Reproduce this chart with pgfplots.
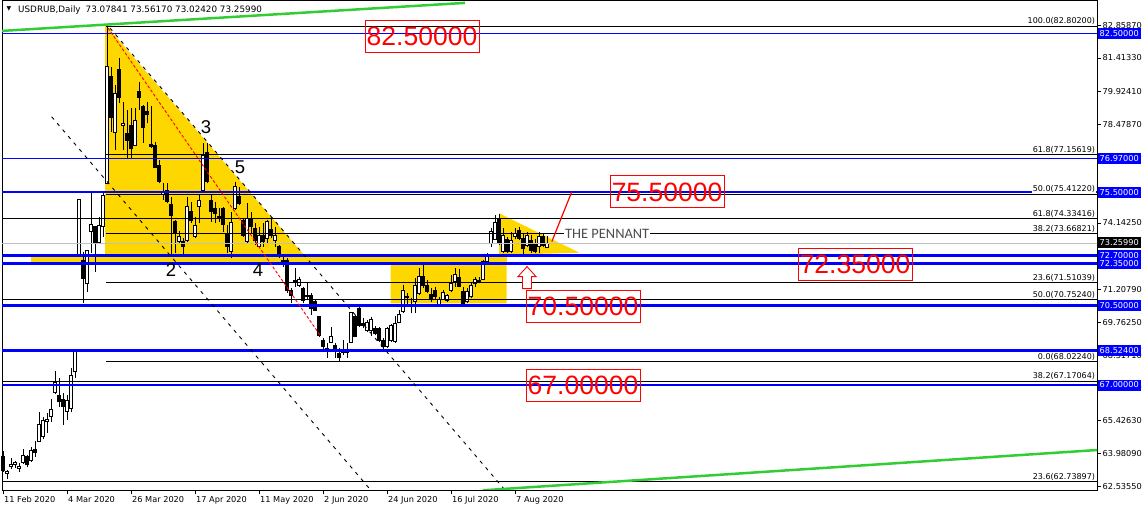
\documentclass[border=0pt]{standalone}
\usepackage{fontspec}
\setmainfont{DejaVu Sans}
\newfontfamily\arialfont{Liberation Sans}
\newfontfamily\calfont{Carlito}
\usepackage{pgfplots}
\usepackage{pgfplotstable}
\pgfplotsset{compat=1.18}

\definecolor{mtgold}{RGB}{255,215,0}
\definecolor{mtblue}{RGB}{0,0,255}
\definecolor{mtgreen}{RGB}{50,205,50}
\definecolor{mtgray}{RGB}{192,192,192}
\definecolor{mtred}{RGB}{255,0,0}

\newcommand\smallfont{\fontsize{8.2bp}{9.5bp}\selectfont}
\newcommand\fibfont{\fontsize{8bp}{9bp}\selectfont}

% daily bars, i = trading day counted from 11 Feb 2020
\pgfplotstableread{
i o h l c
0 63.84 64.10 63.18 63.25
1 63.11 63.25 62.87 63.21
2 63.40 63.78 63.31 63.52
3 63.49 63.66 63.36 63.61
4 63.31 63.58 63.18 63.43
5 63.58 64.17 63.52 63.90
6 63.87 63.91 63.40 63.52
7 63.66 64.28 63.61 64.14
8 64.18 64.53 63.84 64.02
9 64.50 65.81 64.50 65.28
10 64.72 65.60 64.62 65.46
11 65.38 65.75 64.90 65.50
12 65.60 66.38 65.38 65.94
13 66.66 67.62 66.60 67.13
14 66.56 67.31 66.04 66.26
15 66.38 66.63 65.24 66.04
16 65.82 66.55 65.46 66.30
17 65.97 67.75 65.82 67.44
18 67.62 68.54 67.30 68.50
19 72.72 75.18 72.72 75.18
20 72.51 72.87 70.62 71.70
21 71.48 72.95 71.11 72.95
22 73.75 75.45 72.83 74.09
23 74.00 74.00 71.99 73.24
24 73.27 74.41 73.24 74.05
25 73.97 75.52 73.53 75.37
26 75.89 82.80 75.89 81.05
27 80.58 81.02 78.17 78.80
28 78.12 80.22 77.36 79.85
29 80.91 81.39 79.44 79.68
30 78.46 79.48 77.36 78.53
31 78.09 79.12 76.95 77.80
32 78.46 79.19 76.95 77.43
33 77.58 79.19 77.53 78.68
34 79.96 80.37 79.12 79.66
35 79.29 79.34 77.68 78.36
36 79.04 79.48 78.53 78.94
37 77.62 79.29 77.45 77.53
38 77.58 77.72 76.55 76.60
39 76.69 76.91 75.89 75.96
40 75.41 75.89 75.15 75.52
41 75.59 75.89 75.01 75.08
42 74.98 75.30 72.65 74.49
43 74.23 74.27 72.80 73.73
44 73.31 73.80 73.21 73.53
45 73.31 73.46 72.73 73.09
46 73.39 75.30 73.31 74.86
47 74.64 75.08 74.15 74.27
48 73.53 74.41 73.46 74.05
49 74.86 75.37 74.15 75.15
50 75.56 77.65 75.52 77.14
51 77.24 77.68 75.89 75.96
52 75.15 75.37 74.20 74.64
53 74.79 75.08 74.13 74.57
54 74.41 74.79 74.20 74.35
55 74.79 74.86 73.75 74.09
56 73.68 74.05 72.80 73.09
57 72.87 74.64 72.58 74.15
58 74.79 75.96 74.71 75.74
59 75.30 75.74 74.93 75.01
60 74.27 74.35 73.53 73.61
61 73.31 75.01 73.24 74.35
62 74.35 74.64 73.68 73.97
63 73.90 74.13 73.17 73.39
64 73.09 73.97 73.02 73.61
65 73.61 74.13 73.09 73.31
66 73.46 74.27 73.24 74.20
67 73.86 74.41 73.46 73.61
68 73.39 73.97 73.09 73.61
69 73.09 73.17 72.58 72.73
70 72.51 72.65 72.21 72.43
71 72.51 72.58 71.04 71.19
72 71.19 71.26 70.60 70.97
73 71.55 72.14 71.33 71.62
74 71.40 71.77 71.33 71.67
75 71.26 71.33 70.60 70.74
76 70.96 71.48 70.74 70.89
77 70.96 71.04 70.08 70.38
78 70.67 70.74 70.27 70.30
79 70.01 70.01 69.13 69.20
80 68.98 69.06 68.54 68.69
81 68.62 68.84 68.18 68.54
82 68.86 69.57 68.84 69.16
83 68.76 68.84 68.18 68.54
84 68.40 68.62 68.02 68.20
85 68.42 68.98 68.32 68.54
86 68.54 68.84 68.18 68.42
87 68.86 70.23 68.84 70.20
88 70.01 70.08 69.13 69.16
89 70.38 70.52 69.57 69.64
90 69.72 69.94 69.50 69.64
91 69.42 69.86 69.35 69.74
92 69.42 69.98 69.16 69.89
93 69.51 69.60 69.20 69.29
94 69.50 69.57 68.91 68.98
95 68.98 69.06 68.51 68.69
96 68.69 69.57 68.62 69.50
97 68.98 69.68 68.91 69.64
98 68.91 70.04 68.86 69.72
99 69.74 70.30 69.72 70.13
100 70.23 71.40 70.16 71.19
101 70.89 71.04 70.52 70.85
102 70.57 70.83 70.17 70.48
103 70.67 71.70 70.16 71.40
104 71.04 72.14 70.97 71.77
105 71.80 72.28 71.26 71.40
106 71.40 71.62 71.04 71.11
107 71.01 71.26 70.67 70.78
108 71.19 71.30 70.78 70.89
109 70.57 70.89 70.48 70.78
110 70.78 71.19 70.74 71.07
111 70.74 71.01 70.67 70.96
112 71.15 71.84 71.11 71.48
113 71.55 72.14 71.33 71.89
114 71.74 72.10 71.30 71.36
115 71.11 71.30 70.48 70.57
116 70.67 71.26 70.60 71.11
117 70.89 71.55 70.82 71.40
118 71.48 71.77 71.30 71.65
119 71.55 71.75 71.48 71.62
120 71.65 72.51 71.62 72.43
121 72.43 72.80 72.33 72.65
122 73.24 73.90 73.09 73.75
123 73.42 74.49 73.39 74.15
124 74.35 74.54 73.17 73.24
125 72.87 73.90 72.80 73.61
126 73.42 73.53 72.80 72.87
127 72.91 73.75 72.83 73.39
128 73.56 73.90 73.42 73.68
129 73.83 73.95 73.39 73.46
130 73.46 73.68 72.73 73.02
131 73.17 73.75 73.09 73.61
132 73.39 73.61 72.80 72.95
133 73.24 73.42 72.80 72.87
134 73.09 73.75 72.80 73.53
135 73.53 73.68 73.09 73.17
136 73.08 73.56 73.02 73.26
}\usdrub

\pgfdeclareplotmark{blank}{}

\pgfplotsset{
  candles/.style={
    scatter, only marks, mark=blank, point meta=y,
    visualization depends on={\thisrow{c}-\thisrow{o} \as \candB},
    visualization depends on={\thisrow{h}-\thisrow{o} \as \candHi},
    visualization depends on={\thisrow{l}-\thisrow{o} \as \candLo},
    scatter/@pre marker code/.code={%
      \ifdim\candB pt<0pt \def\candfill{black}\else\def\candfill{white}\fi
      \draw[black, line width=0.9bp] (axis direction cs:0,\candLo) -- (axis direction cs:0,\candHi);
      \filldraw[fill=\candfill, draw=black, line width=0.8bp]
        (axis direction cs:-0.3,0) rectangle (axis direction cs:0.3,\candB);
    },
    scatter/@post marker code/.code={},
  },
}
\tikzset{
  fiblbl/.style={anchor=south east, fill=white, inner sep=0.6bp, yshift=0.6bp, font=\fibfont},
  pricebox/.style={anchor=west, xshift=0.5bp, fill=mtblue, text=white, inner xsep=2bp,
    inner ysep=0.5bp, minimum height=11bp, font=\smallfont},
  redbox/.style={draw=mtred, line width=0.9bp, text=mtred, inner sep=0pt,
    minimum width=114bp, minimum height=32bp,
    font=\arialfont\fontsize{26.5bp}{30bp}\selectfont},
  wave/.style={font=\arialfont\fontsize{18.5bp}{20bp}\selectfont},
}

\begin{document}
\begin{tikzpicture}
\begin{axis}[
  at={(2bp,21bp)}, anchor=south west,
  scale only axis, width=1095bp, height=490bp,
  xmin=-0.25, xmax=273.5, ymin=62.373, ymax=83.9676,
  clip mode=individual,
  axis line style={black, line width=0.8bp},
  tick align=outside, major tick length=4bp,
  tick style={black, line width=0.8bp},
  xtick pos=left, ytick pos=right, yticklabel pos=right,
  xtick={0,16,...,128},
  xticklabels={11 Feb 2020,4 Mar 2020,26 Mar 2020,17 Apr 2020,11 May 2020,2 Jun 2020,24 Jun 2020,16 Jul 2020,7 Aug 2020},
  ytick={62.5355,63.9809,65.4263,66.8717,68.3171,69.7625,71.2079,74.1425,78.4787,79.9241,81.4133,82.8587},
  yticklabels={62.53550,63.98090,65.42630,66.87170,68.31710,69.76250,71.20790,74.14250,78.47870,79.92410,81.41330,82.85870},
  ticklabel style={font=\smallfont},
  xticklabel style={anchor=north west, inner xsep=1bp, yshift=1.5bp},
  yticklabel style={anchor=west, inner xsep=1.5bp},
]
% yellow zones
\addplot[fill=mtgold, draw=none] coordinates {(25.5,82.91) (25.5,72.70) (75.4,72.70) (25.5,82.91)};
\addplot[fill=mtgold, draw=none] coordinates {(7,72.35) (7,72.76) (126,72.76) (126,72.35) (7,72.35)};
\addplot[fill=mtgold, draw=none] coordinates {(96.9,70.60) (96.9,72.40) (125.9,72.40) (125.9,70.60) (96.9,70.60)};
\addplot[fill=mtgold, draw=none] coordinates {(124,74.57) (144.1,72.83) (124,72.73) (124,74.57)};

% candles
\addplot[candles] table[x=i, y=o] {\usdrub};

% fibonacci levels from the March high
\pgfplotsinvokeforeach{82.802,77.15619,75.4122,73.66821,71.51039,68.0224}{
  \addplot[black, line width=0.8bp] coordinates {(25.75,#1) (275,#1)};
}
% second fibonacci set
\pgfplotsinvokeforeach{74.33416,70.7524,67.17064,62.73897}{
  \addplot[black, line width=0.8bp] coordinates {(-1,#1) (275,#1)};
}
% bid line
\addplot[mtgray, line width=0.8bp] coordinates {(-1,73.2599) (275,73.2599)};
% support / resistance
\pgfplotsinvokeforeach{82.5,76.97}{
  \addplot[mtblue, line width=1bp] coordinates {(-1,#1) (275,#1)};
}
\pgfplotsinvokeforeach{75.5,72.7,72.35,70.5,68.524,67}{
  \addplot[mtblue, line width=2.5bp] coordinates {(-1,#1) (275,#1)};
}
% channel lines
\addplot[black, line width=0.9bp, dash pattern=on 3.5bp off 5bp] coordinates {(12.17,78.82) (93,62.15)};
\addplot[black, line width=0.9bp, dash pattern=on 3.5bp off 5bp] coordinates {(26.75,82.73) (127,62.06)};
\addplot[mtred, line width=0.9bp, dash pattern=on 3bp off 2bp] coordinates {(26.25,82.73) (79.25,69.20)};
\addplot[mtgreen, line width=2.5bp] coordinates {(-0.75,82.60) (115.5,83.84)};
\addplot[mtgreen, line width=2.5bp] coordinates {(120,62.36) (274,64.14)};
% breakout
\addplot[mtred, line width=1.2bp] coordinates {(137.2,73.32) (142.2,75.52)};

% fibonacci labels
\node[fiblbl] at (axis cs:273.2,82.802) {100.0(82.80200)};
\node[fiblbl] at (axis cs:273.2,77.15619) {61.8(77.15619)};
\node[fiblbl] at (axis cs:273.2,75.4122) {50.0(75.41220)};
\node[fiblbl] at (axis cs:273.2,74.33416) {61.8(74.33416)};
\node[fiblbl] at (axis cs:273.2,73.66821) {38.2(73.66821)};
\node[fiblbl] at (axis cs:273.2,71.51039) {23.6(71.51039)};
\node[fiblbl] at (axis cs:273.2,70.7524) {50.0(70.75240)};
\node[fiblbl] at (axis cs:273.2,68.0224) {0.0(68.02240)};
\node[fiblbl] at (axis cs:273.2,67.17064) {38.2(67.17064)};
\node[fiblbl] at (axis cs:273.2,62.73897) {23.6(62.73897)};

% price boxes on the scale
\node[pricebox] at (axis cs:273.5,82.5) {82.50000};
\node[pricebox] at (axis cs:273.5,76.97) {76.97000};
\node[pricebox] at (axis cs:273.5,75.5) {75.50000};
\node[pricebox, fill=black] at (axis cs:273.5,73.2599) {73.25990};
\node[pricebox] at (axis cs:273.5,72.7) {72.70000};
\node[pricebox] at (axis cs:273.5,72.35) {72.35000};
\node[pricebox] at (axis cs:273.5,70.5) {70.50000};
\node[pricebox] at (axis cs:273.5,68.524) {68.52400};
\node[pricebox] at (axis cs:273.5,67) {67.00000};

% big level labels
\node[redbox] at (axis cs:104.75,82.38) {82.50000};
\node[redbox] at (axis cs:166,75.51) {75.50000};
\node[redbox] at (axis cs:213,72.33) {72.35000};
\node[redbox] at (axis cs:145,70.46) {70.50000};
\node[redbox] at (axis cs:145,67.00) {67.00000};

% wave counts
\node[wave] at (axis cs:42,72.07) {2};
\node[wave] at (axis cs:50.75,78.37) {3};
\node[wave] at (axis cs:63.75,72.07) {4};
\node[wave] at (axis cs:59.25,76.61) {5};

\node[anchor=west, fill=white, inner sep=1bp, text=black!70,
  font=\calfont\fontsize{14.4bp}{16bp}\selectfont] at (axis cs:140.25,73.66821) {THE PENNANT};

% hollow up arrow under the pennant
\draw[mtred, fill=white, line width=0.9bp, line join=miter]
  (axis cs:131,72.22) -- ++(9bp,-10bp) -- ++(-4.5bp,0bp) -- ++(0bp,-12bp)
  -- ++(-9bp,0bp) -- ++(0bp,12bp) -- ++(-4.5bp,0bp) -- cycle;

% chart title
\node[anchor=center, inner sep=0, font=\fontsize{6bp}{6bp}\selectfont, xshift=7bp, yshift=-9bp]
  at (rel axis cs:0,1) {▼};
\node[anchor=west, inner sep=0, font=\fontsize{8.8bp}{10bp}\selectfont, xshift=16bp, yshift=-10bp]
  at (rel axis cs:0,1) {USDRUB,Daily\hspace{5bp}73.07841 73.56170 73.02420 73.25990};
\end{axis}
\pgfresetboundingbox
\useasboundingbox (0,0) rectangle (1148bp,511bp);
\end{tikzpicture}
\end{document}
